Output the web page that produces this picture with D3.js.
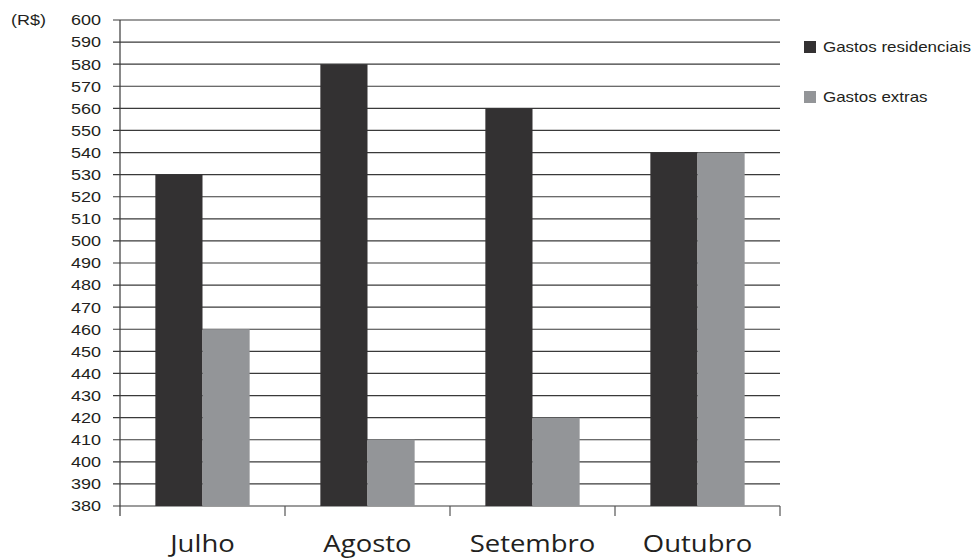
<!DOCTYPE html>
<html>
<head>
<meta charset="utf-8">
<script src="https://cdn.jsdelivr.net/npm/d3@7"></script>
<style>
  html, body { margin: 0; padding: 0; background: #fff; }
  svg { display: block; }
</style>
</head>
<body>
<div id="chart"></div>
<script>
const months = ["Julho", "Agosto", "Setembro", "Outubro"];
const seriesNames = ["Gastos residenciais", "Gastos extras"];
const residenciais = [530, 580, 560, 540];
const extras = [460, 410, 420, 540];
const yTicks = d3.range(380, 601, 10);

const width = 974;
const height = 559;
const plotLeft = 120, plotRight = 780, plotTop = 20, plotBottom = 506;
const colors = ["#333132", "#939598"];
const stretch = 1.17; // the source text is a bit wide

const svg = d3.select("#chart").append("svg")
  .attr("width", width)
  .attr("height", height);

const x = d3.scaleBand().domain(months).range([plotLeft, plotRight]).paddingInner(0).paddingOuter(0);
const xSeries = d3.scaleBand().domain(seriesNames).range([0, x.bandwidth()]).paddingOuter(0.75).paddingInner(0);
const y = d3.scaleLinear().domain([380, 600]).range([plotBottom, plotTop]);

// gridlines
svg.append("g")
  .selectAll("line")
  .data(yTicks)
  .join("line")
  .attr("x1", plotLeft - 7)
  .attr("x2", plotRight)
  .attr("y1", d => y(d))
  .attr("y2", d => y(d))
  .attr("stroke", "#3a3a3a")
  .attr("stroke-width", 1.2);

// bars
const rows = months.map((m, i) => ({ month: m, values: [residenciais[i], extras[i]] }));
svg.append("g")
  .selectAll("g")
  .data(rows)
  .join("g")
  .attr("transform", d => `translate(${x(d.month)},0)`)
  .selectAll("rect")
  .data(d => d.values.map((v, j) => ({ name: seriesNames[j], v, j })))
  .join("rect")
  .attr("x", d => xSeries(d.name))
  .attr("width", xSeries.bandwidth())
  .attr("y", d => y(d.v))
  .attr("height", d => plotBottom - y(d.v))
  .attr("fill", d => colors[d.j]);

// y axis line
svg.append("line")
  .attr("x1", plotLeft).attr("x2", plotLeft)
  .attr("y1", plotTop).attr("y2", plotBottom + 10)
  .attr("stroke", "#3a3a3a").attr("stroke-width", 1.2);

// category boundary ticks
svg.append("g")
  .selectAll("line")
  .data(months.slice(1).map(m => x(m)).concat([plotRight]))
  .join("line")
  .attr("x1", d => d).attr("x2", d => d)
  .attr("y1", plotBottom).attr("y2", plotBottom + 10)
  .attr("stroke", "#555").attr("stroke-width", 1.2);

const sansFont = "'Liberation Sans', Arial, sans-serif";

// y tick labels
svg.append("g")
  .selectAll("text")
  .data(yTicks)
  .join("text")
  .attr("transform", d => `translate(101,${y(d)}) scale(${stretch},1)`)
  .attr("dy", "0.35em")
  .attr("text-anchor", "end")
  .style("font-family", sansFont)
  .style("font-size", "15.4px")
  .style("fill", "#231f20")
  .text(d => d);

svg.append("text")
  .attr("transform", `translate(11,${y(600)}) scale(${stretch},1)`)
  .attr("dy", "0.35em")
  .style("font-family", sansFont)
  .style("font-size", "15.4px")
  .style("fill", "#231f20")
  .text("(R$)");

// month labels
svg.append("g")
  .selectAll("text")
  .data(months)
  .join("text")
  .attr("transform", d => `translate(${x(d) + x.bandwidth() / 2},552) scale(${stretch},1)`)
  .attr("text-anchor", "middle")
  .style("font-family", "'Open Sans', 'Noto Sans', sans-serif")
  .style("font-size", "23.5px")
  .style("fill", "#231f20")
  .text(d => d);

// legend
const legend = svg.append("g")
  .selectAll("g")
  .data(seriesNames)
  .join("g")
  .attr("transform", (d, i) => `translate(804,${47 + i * 50})`);
legend.append("rect")
  .attr("x", 0).attr("y", -6)
  .attr("width", 12).attr("height", 12)
  .attr("fill", (d, i) => colors[i]);
legend.append("text")
  .attr("transform", `translate(19,0) scale(${stretch},1)`)
  .attr("dy", "0.35em")
  .style("font-family", sansFont)
  .style("font-size", "14.5px")
  .style("fill", "#231f20")
  .text(d => d);
</script>
</body>
</html>
